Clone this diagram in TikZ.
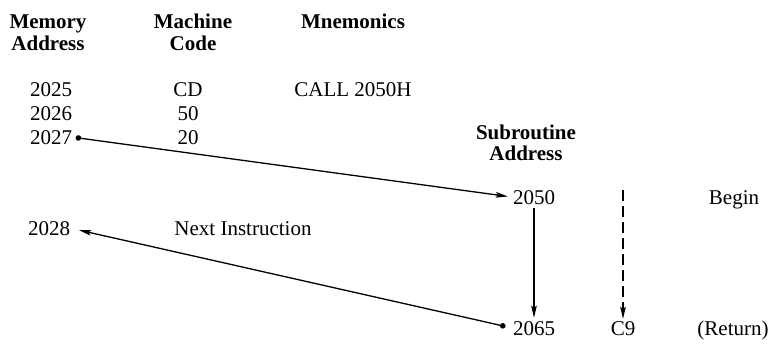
\documentclass[tikz,border=0pt]{standalone}
\usepackage{fontspec}
\setmainfont{Liberation Serif}
\usetikzlibrary{arrows.meta}

\begin{document}
\begin{tikzpicture}[
    x=1pt, y=-1pt,
    txt/.style={anchor=base, inner sep=0pt, font=\fontsize{21}{21}\selectfont},
    head/.style={txt, font=\fontsize{21}{21}\selectfont\bfseries, align=center},
    ptr/.style={-{Stealth[length=12pt, width=5.5pt, inset=2pt]}, line width=1.3pt},
    dotptr/.style={{Circle[length=5.5pt]}-{Stealth[length=12pt, width=5.5pt, inset=2pt]}, line width=1.3pt},
  ]
  \useasboundingbox (0,0) rectangle (770,345);

  % --- Column headings (base = last line) ---
  \node[head] (hmem)  at (48, 50)  {Memory\\Address};
  \node[head] (hcode) at (193, 50) {Machine\\Code};
  \node[head] (hmnem) at (353, 29) {Mnemonics};
  \node[head] (hsub)  at (526, 160) {Subroutine\\Address};

  % --- Main program ---
  \node[txt] (m25) at (51, 96)  {2025};
  \node[txt] (m26) at (51, 120) {2026};
  \node[txt] (m27) at (51, 144) {2027};
  \node[txt] (m28) at (49, 235) {2028};
  \node[txt] (c25) at (188, 96)  {CD};
  \node[txt] (c26) at (188, 120) {50};
  \node[txt] (c27) at (188, 144) {20};
  \node[txt] (call) at (353, 96) {CALL 2050H};
  \node[txt] (next) at (243, 235) {Next Instruction};

  % --- Subroutine ---
  \node[txt] (s50)   at (534, 204) {2050};
  \node[txt] (s65)   at (534, 335) {2065};
  \node[txt] (begin) at (734, 204) {Begin};
  \node[txt] (c9)    at (623, 335) {C9};
  \node[txt] (ret)   at (733, 335) {(Return)};
  \coordinate (dtop) at (623, 190);

  % --- Call, body and return ---
  \draw[dotptr, shorten <=3.5pt, shorten >=5pt] (m27.east) -- (s50.west);
  \draw[ptr, shorten <=4pt, shorten >=3pt] (s50.south) -- (s65.north);
  \draw[ptr, dash pattern=on 11pt off 5pt, shorten >=2pt] (dtop) -- (c9.north);
  \draw[dotptr, shorten <=7.5pt, shorten >=9pt] (s65.west) -- (m28.east);

\end{tikzpicture}
\end{document}
